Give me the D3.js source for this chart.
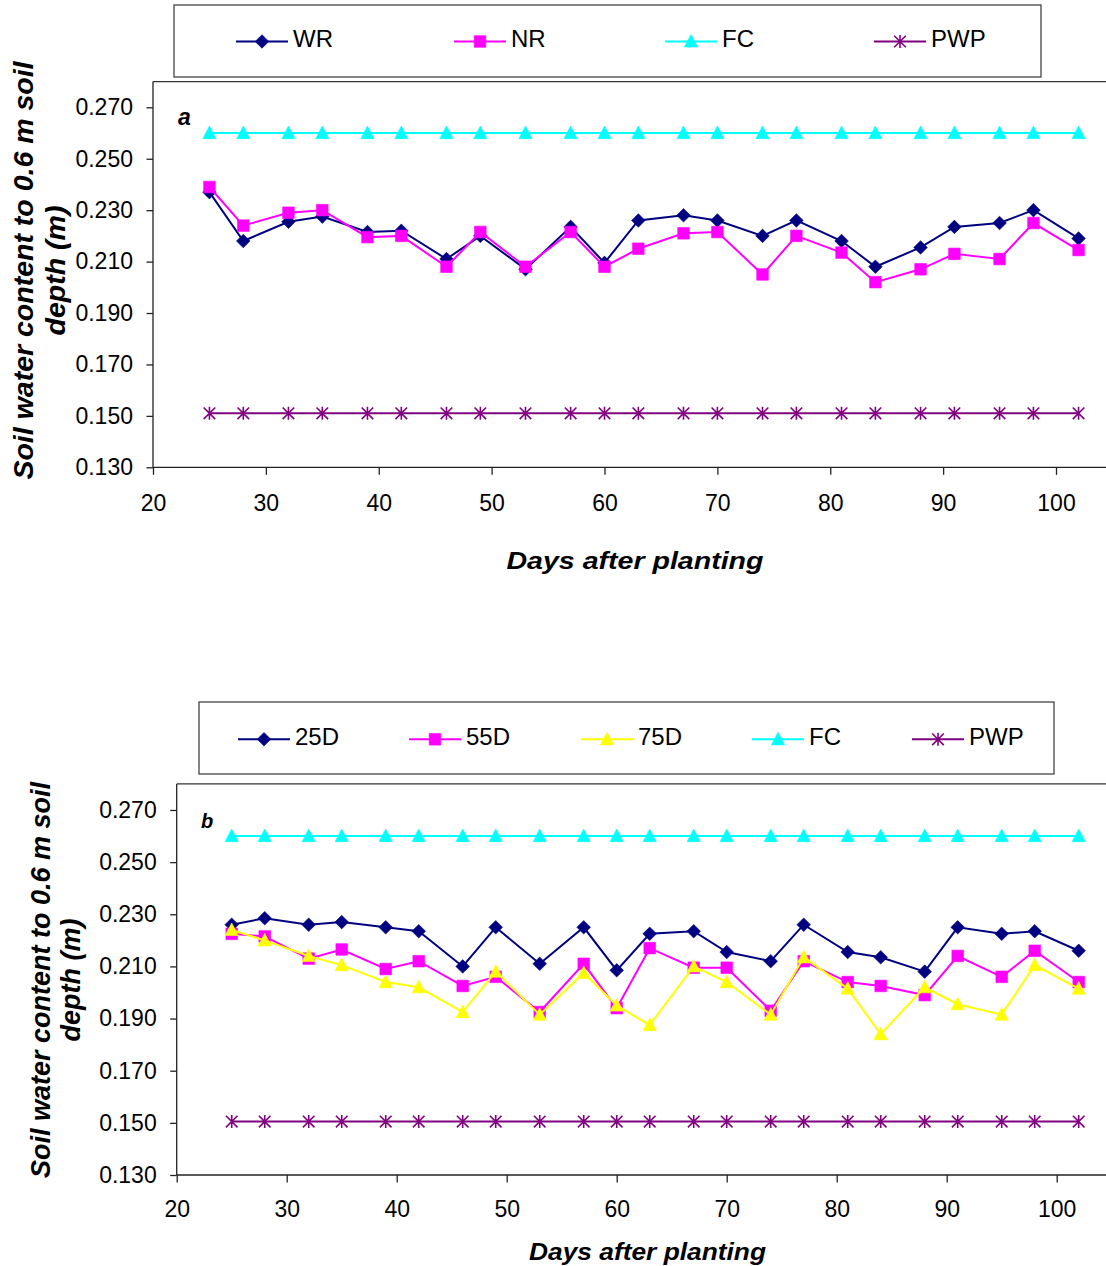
<!DOCTYPE html>
<html>
<head>
<meta charset="utf-8">
<script src="https://cdn.jsdelivr.net/npm/d3@7"></script>
<style>
  body { margin: 0; background: #fff; }
  svg { display: block; }
</style>
</head>
<body>
<svg id="chart" width="1106" height="1266"></svg>
<script>
// Sampling days (days after planting)
const days = [25, 28, 32, 35, 39, 42, 46, 49, 53, 57, 60, 63, 67, 70, 74, 77, 81, 84, 88, 91, 95, 98, 102];

// Panel a: soil water content (m) to 0.6 m depth
const wr   = [0.237, 0.218, 0.2255, 0.2275, 0.2215, 0.222, 0.211, 0.220, 0.207, 0.2235, 0.2095, 0.226,
              0.228, 0.226, 0.220, 0.226, 0.218, 0.208, 0.2155, 0.2235, 0.225, 0.230, 0.219];
const nr   = [0.239, 0.224, 0.229, 0.230, 0.2195, 0.220, 0.208, 0.2215, 0.208, 0.2215, 0.208, 0.215,
              0.221, 0.2215, 0.205, 0.220, 0.2135, 0.202, 0.207, 0.213, 0.211, 0.225, 0.2145];
const fcA  = [0.26, 0.26, 0.26, 0.26, 0.26, 0.26, 0.26, 0.26, 0.26, 0.26, 0.26, 0.26,
              0.26, 0.26, 0.26, 0.26, 0.26, 0.26, 0.26, 0.26, 0.26, 0.26, 0.26];
const pwpA = [0.151, 0.151, 0.151, 0.151, 0.151, 0.151, 0.151, 0.151, 0.151, 0.151, 0.151, 0.151,
              0.151, 0.151, 0.151, 0.151, 0.151, 0.151, 0.151, 0.151, 0.151, 0.151, 0.151];

// Panel b: soil water content (m) to 0.6 m depth
const d25  = [0.226, 0.2285, 0.226, 0.227, 0.225, 0.2235, 0.210, 0.225, 0.211, 0.225, 0.2085, 0.2225,
              0.2235, 0.2155, 0.212, 0.226, 0.2155, 0.2135, 0.208, 0.225, 0.2225, 0.2235, 0.216];
const d55  = [0.2225, 0.2215, 0.213, 0.2165, 0.209, 0.212, 0.2025, 0.206, 0.1925, 0.211, 0.194, 0.217,
              0.2095, 0.2095, 0.193, 0.212, 0.204, 0.2025, 0.199, 0.214, 0.206, 0.216, 0.204];
const d75  = [0.224, 0.220, 0.214, 0.2105, 0.204, 0.202, 0.1925, 0.208, 0.1915, 0.2075, 0.195, 0.1875,
              0.210, 0.204, 0.1915, 0.2135, 0.2015, 0.184, 0.202, 0.1955, 0.1915, 0.2105, 0.2015];
const fcB  = [0.26, 0.26, 0.26, 0.26, 0.26, 0.26, 0.26, 0.26, 0.26, 0.26, 0.26, 0.26,
              0.26, 0.26, 0.26, 0.26, 0.26, 0.26, 0.26, 0.26, 0.26, 0.26, 0.26];
const pwpB = [0.1505, 0.1505, 0.1505, 0.1505, 0.1505, 0.1505, 0.1505, 0.1505, 0.1505, 0.1505, 0.1505, 0.1505,
              0.1505, 0.1505, 0.1505, 0.1505, 0.1505, 0.1505, 0.1505, 0.1505, 0.1505, 0.1505, 0.1505];

// Axis ticks and labels
const xTicks = [20, 30, 40, 50, 60, 70, 80, 90, 100];
const yTicks = [0.13, 0.15, 0.17, 0.19, 0.21, 0.23, 0.25, 0.27];
const xDomain = [20, 100];
const yDomain = [0.13, 0.28];
const xTitle = "Days after planting";
const yTitle = ["Soil water content to 0.6 m soil", "depth (m)"];
const namesA = ["WR", "NR", "FC", "PWP"];
const namesB = ["25D", "55D", "75D", "FC", "PWP"];

const FONT = '"Liberation Sans", Arial, Helvetica, sans-serif';
const W = 1106;
const svg = d3.select("#chart");

// Excel-like marker shapes
const markerPath = {
  diamond:  "M0,-6.8L6.8,0L0,6.8L-6.8,0Z",
  square:   "M-5.8,-5.8H5.8V5.8H-5.8Z",
  triangle: "M0,-7L6.6,5.6L-6.6,5.6Z",
  star:     "M0,-6.5V6.5M-5.8,-5.8L5.8,5.8M-5.8,5.8L5.8,-5.8"
};

function drawMarker(g, type, color, cx, cy) {
  const m = g.append("path")
    .attr("d", markerPath[type])
    .attr("transform", `translate(${cx},${cy})`);
  if (type === "star") {
    m.attr("fill", "none").attr("stroke", color).attr("stroke-width", 1.6);
  } else {
    m.attr("fill", color).attr("stroke", color).attr("stroke-width", 0.6);
  }
}

function drawPanel(p) {
  const g = svg.append("g");
  const x = d3.scaleLinear().domain(xDomain).range([p.left, p.x100]);
  const y = d3.scaleLinear().domain(yDomain).range([p.bottom, p.top]);

  // plot-area top edge
  g.append("line")
    .attr("x1", p.left).attr("x2", W)
    .attr("y1", p.top).attr("y2", p.top)
    .attr("stroke", "#333").attr("stroke-width", 1.3);

  // y axis
  const ya = g.append("g")
    .attr("transform", `translate(${p.left},0)`)
    .call(d3.axisLeft(y).tickValues(yTicks).tickFormat(d3.format(".3f"))
      .tickSize(6.5).tickPadding(13.5).tickSizeOuter(0));
  ya.select(".domain").attr("d", `M0,${p.bottom}V${p.top}`);

  // x axis
  const xa = g.append("g")
    .attr("transform", `translate(0,${p.bottom})`)
    .call(d3.axisBottom(x).tickValues(xTicks).tickFormat(d3.format("d"))
      .tickSize(7.5).tickPadding(p.xPad).tickSizeOuter(0));
  xa.select(".domain").attr("d", `M${p.left},0H${W}`);

  [ya, xa].forEach(a => {
    a.selectAll("path, line").attr("stroke", "#222").attr("stroke-width", 1.3);
    a.selectAll("text").attr("font-family", FONT).attr("font-size", p.tickFont).attr("fill", "#000");
  });

  // series lines then markers
  p.series.forEach(s => {
    const line = d3.line().x((d, i) => x(days[i])).y(d => y(d));
    g.append("path").datum(s.values)
      .attr("d", line)
      .attr("fill", "none")
      .attr("stroke", s.color)
      .attr("stroke-width", 2);
    s.values.forEach((v, i) => drawMarker(g, s.marker, s.color, x(days[i]), y(v)));
  });

  // panel letter
  g.append("text")
    .attr("x", p.letterX).attr("y", p.letterY)
    .attr("font-family", FONT).attr("font-weight", "bold").attr("font-style", "italic")
    .attr("font-size", p.letterFont)
    .text(p.letter);

  // y-axis title (two lines)
  yTitle.forEach((t, i) => {
    g.append("text")
      .attr("transform", `translate(${p.yTitleX[i]},${p.yTitleY}) rotate(-90)`)
      .attr("text-anchor", "middle")
      .attr("font-family", FONT).attr("font-weight", "bold").attr("font-style", "italic")
      .attr("font-size", p.yTitleFont)
      .text(t);
  });

  // x-axis title
  g.append("text")
    .attr("x", p.xTitleX).attr("y", p.xTitleY)
    .attr("text-anchor", "middle")
    .attr("font-family", FONT).attr("font-weight", "bold").attr("font-style", "italic")
    .attr("font-size", p.xTitleFont)
    .attr("textLength", p.xTitleLen).attr("lengthAdjust", "spacingAndGlyphs")
    .text(xTitle);

  // legend box
  const lg = svg.append("g");
  lg.append("rect")
    .attr("x", p.legend.x).attr("y", p.legend.y)
    .attr("width", p.legend.w).attr("height", p.legend.h)
    .attr("fill", "#fff").attr("stroke", "#444").attr("stroke-width", 1.3);
  p.series.forEach((s, i) => {
    const lx = p.legend.items[i];
    const ly = p.legend.lineY;
    lg.append("line")
      .attr("x1", lx).attr("x2", lx + 52)
      .attr("y1", ly).attr("y2", ly)
      .attr("stroke", s.color).attr("stroke-width", 2);
    drawMarker(lg, s.marker, s.color, lx + 26, ly);
    lg.append("text")
      .attr("x", lx + 57).attr("y", p.legend.textY)
      .attr("font-family", FONT).attr("font-size", p.legendFont)
      .text(s.name);
  });
}

drawPanel({
  left: 153, top: 81.6, bottom: 467.3, x100: 1056,
  xPad: 20, tickFont: 23,
  letter: "a", letterX: 178, letterY: 125, letterFont: 23,
  yTitleX: [33, 65], yTitleY: 270.5, yTitleFont: 28.5,
  xTitleX: 635, xTitleY: 569, xTitleFont: 23.5, xTitleLen: 257,
  legendFont: 24,
  legend: { x: 174, y: 5, w: 867, h: 72, lineY: 41.5, textY: 47, items: [236, 454, 665, 874] },
  series: [
    { name: namesA[0], values: wr,   color: "#000080", marker: "diamond" },
    { name: namesA[1], values: nr,   color: "#FF00FF", marker: "square" },
    { name: namesA[2], values: fcA,  color: "#00FFFF", marker: "triangle" },
    { name: namesA[3], values: pwpA, color: "#800080", marker: "star" }
  ]
});

drawPanel({
  left: 176.7, top: 783.9, bottom: 1175, x100: 1056.7,
  xPad: 18.5, tickFont: 23,
  letter: "b", letterX: 201, letterY: 828, letterFont: 20,
  yTitleX: [50, 80], yTitleY: 980, yTitleFont: 27,
  xTitleX: 647.5, xTitleY: 1260, xTitleFont: 23.5, xTitleLen: 237,
  legendFont: 24,
  legend: { x: 199, y: 702, w: 855, h: 72, lineY: 739.3, textY: 745, items: [238, 409, 581, 752, 912] },
  series: [
    { name: namesB[0], values: d25,  color: "#000080", marker: "diamond" },
    { name: namesB[1], values: d55,  color: "#FF00FF", marker: "square" },
    { name: namesB[2], values: d75,  color: "#FFFF00", marker: "triangle" },
    { name: namesB[3], values: fcB,  color: "#00FFFF", marker: "triangle" },
    { name: namesB[4], values: pwpB, color: "#800080", marker: "star" }
  ]
});
</script>
</body>
</html>
